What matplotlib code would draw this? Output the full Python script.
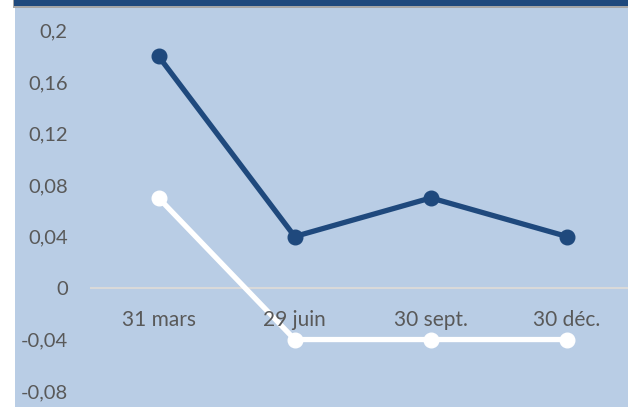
import matplotlib.pyplot as plt
from matplotlib.patches import Rectangle

# data
categories = ['31 mars', '29 juin', '30 sept.', '30 déc.']
serie_bleue = [0.18, 0.04, 0.07, 0.04]
serie_blanche = [0.07, -0.04, -0.04, -0.04]
yticks = [0.2, 0.16, 0.12, 0.08, 0.04, 0, -0.04, -0.08]
ytick_labels = ['0,2', '0,16', '0,12', '0,08', '0,04', '0', '-0,04', '-0,08']

dark = '#1F497D'
bg = '#B9CDE5'
txt = '#595959'

plt.rcParams['font.family'] = ['Lato', 'DejaVu Sans']

fig = plt.figure(figsize=(6.28, 4.07), dpi=100)
fig.patch.set_facecolor('white')

W, H = 628, 407
ax = fig.add_axes([15 / W, 0, 613 / W, 399 / H])
ax.set_facecolor(bg)
for s in ax.spines.values():
    s.set_visible(False)

# dark band on top
fig.patches.append(Rectangle((13 / W, 399 / H), 615 / W, 9 / H, transform=fig.transFigure,
                             facecolor='#A6A6A6', edgecolor='none'))
fig.patches.append(Rectangle((14 / W, 401 / H), 614 / W, 6 / H, transform=fig.transFigure,
                             facecolor=dark, edgecolor='none'))

x = list(range(len(categories)))
ax.axhline(0, xmin=(91 - 15) / 613, xmax=1, color='#D9D9D9', lw=1.5, zorder=1)
ax.plot(x, serie_blanche, color='white', lw=3.8, marker='o', markersize=10.5,
        solid_capstyle='round', zorder=2)
ax.plot(x, serie_bleue, color=dark, lw=3.8, marker='o', markersize=10.5,
        solid_capstyle='round', zorder=3)

for i, c in enumerate(categories):
    ax.text(i, -0.0245, c, ha='center', va='center', fontsize=15, color=txt, zorder=4)

ax.set_xlim(-1.054, 3.447)
ax.set_ylim(-0.0924, 0.2175)
ax.set_xticks([])
ax.set_yticks(yticks)
ax.set_yticklabels(ytick_labels)
ax.tick_params(axis='y', length=0, pad=-38, labelsize=14.5, labelcolor=txt)
for lab in ax.get_yticklabels():
    lab.set_horizontalalignment('right')

fig.savefig('out.png', dpi=100, facecolor='white')
